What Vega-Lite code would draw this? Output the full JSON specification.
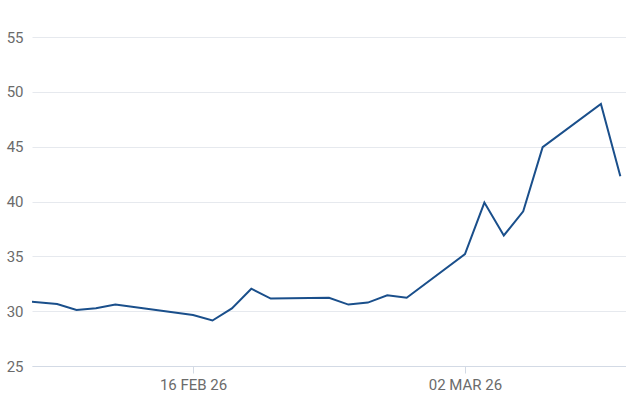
{
  "$schema": "https://vega.github.io/schema/vega-lite/v6.json",
  "width": 594,
  "height": 329,
  "autosize": {"type": "none"},
  "padding": {"left": 32, "top": 37, "right": 0, "bottom": 51},
  "background": "white",
  "config": {"view": {"stroke": null}},
  "data": {
    "values": [
      {"date": "2026-02-06", "value": 31.15},
      {"date": "2026-02-09", "value": 30.65},
      {"date": "2026-02-10", "value": 30.1},
      {"date": "2026-02-11", "value": 30.27},
      {"date": "2026-02-12", "value": 30.6},
      {"date": "2026-02-16", "value": 29.65},
      {"date": "2026-02-17", "value": 29.15},
      {"date": "2026-02-18", "value": 30.25},
      {"date": "2026-02-19", "value": 32.05},
      {"date": "2026-02-20", "value": 31.15},
      {"date": "2026-02-23", "value": 31.22},
      {"date": "2026-02-24", "value": 30.6},
      {"date": "2026-02-25", "value": 30.78},
      {"date": "2026-02-26", "value": 31.45},
      {"date": "2026-02-27", "value": 31.22},
      {"date": "2026-03-02", "value": 35.2},
      {"date": "2026-03-03", "value": 39.9},
      {"date": "2026-03-04", "value": 36.9},
      {"date": "2026-03-05", "value": 39.1},
      {"date": "2026-03-06", "value": 44.95},
      {"date": "2026-03-09", "value": 48.9},
      {"date": "2026-03-10", "value": 42.3}
    ]
  },
  "mark": {"type": "line", "color": "#1a4f8b", "strokeWidth": 2, "clip": true, "interpolate": "linear"},
  "encoding": {
    "x": {
      "field": "date",
      "type": "temporal",
      "scale": {"type": "utc", "domain": ["2026-02-07T17:00:00Z", "2026-03-10T07:00:00Z"]},
      "axis": {
        "title": null,
        "grid": false,
        "values": [
          {"year": 2026, "month": "feb", "date": 16, "utc": true},
          {"year": 2026, "month": "mar", "date": 2, "utc": true}
        ],
        "labelExpr": "upper(utcFormat(datum.value, '%d %b %y'))",
        "labelFont": "Roboto",
        "labelFontSize": 15,
        "labelColor": "#6b6b6b",
        "labelPadding": 4,
        "domainColor": "#d3dae5",
        "tickColor": "#d3dae5",
        "tickSize": 7,
        "labelFlush": false
      }
    },
    "y": {
      "field": "value",
      "type": "quantitative",
      "scale": {"domain": [25, 55], "nice": false, "zero": false},
      "axis": {
        "title": null,
        "values": [25, 30, 35, 40, 45, 50, 55],
        "domain": false,
        "ticks": false,
        "gridColor": "#e6e9ee",
        "labelFont": "Roboto",
        "labelFontSize": 15,
        "labelColor": "#6b6b6b",
        "labelPadding": 9
      }
    }
  }
}
